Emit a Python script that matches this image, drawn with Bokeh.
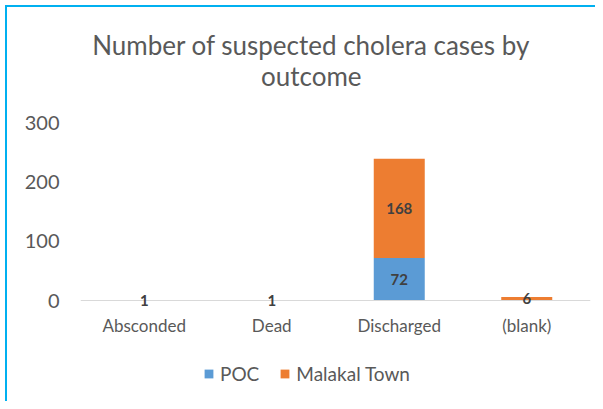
from bokeh.plotting import figure
from bokeh.models import ColumnDataSource, LabelSet, Label, Legend, LegendItem, FixedTicker
from bokeh.core.properties import value
from bokeh.embed import file_html
from bokeh.resources import INLINE

categories = ["Absconded", "Dead", "Discharged", "(blank)"]
poc = [1, 1, 72, 0]
malakal = [0, 0, 168, 6]
series_names = ["POC", "Malakal Town"]
colors = ["#5B9BD5", "#ED7D31"]
y_ticks = [0, 100, 200, 300]
title_lines = ["Number of suspected cholera cases by", "outcome"]

FONT = "Lato"
GRAY = "#595959"

src = ColumnDataSource(dict(cat=categories, POC=poc, Malakal=malakal))

# the frame fills the whole height; space above 300 holds the title,
# space below 0 holds the category labels and the legend
p = figure(x_range=categories, y_range=(-171, 508), width=595, height=401,
           output_backend="svg", toolbar_location=None,
           min_border_left=80, min_border_right=5, min_border_top=0, min_border_bottom=0)

rs = p.vbar_stack(["POC", "Malakal"], x="cat", width=0.4, fill_color=colors,
                  line_color=None, source=src)

# data labels
lab_x, lab_y, lab_t = [], [], []
for c, a, b in zip(categories, poc, malakal):
    if a:
        lab_x.append(c); lab_y.append(a / 2); lab_t.append(str(a))
    if b:
        lab_x.append(c); lab_y.append(a + b / 2); lab_t.append(str(b))
lsrc = ColumnDataSource(dict(x=lab_x, y=lab_y, t=lab_t))
p.add_layout(LabelSet(x="x", y="y", text="t", source=lsrc, text_align="center",
                      text_baseline="middle", text_font=value(FONT), text_font_size="15px",
                      text_font_style="bold", text_color="#404040"))

p.xgrid.visible = False
p.ygrid.visible = False
p.outline_line_color = None
p.background_fill_color = None
p.border_fill_color = None

p.yaxis.ticker = FixedTicker(ticks=y_ticks)
p.yaxis.axis_line_color = None
p.yaxis.major_tick_line_color = None
p.yaxis.minor_tick_line_color = None
p.yaxis.major_label_text_font = FONT
p.yaxis.major_label_text_font_size = "20px"
p.yaxis.major_label_text_color = GRAY
p.yaxis.major_label_standoff = 15

p.xaxis.fixed_location = 0
p.xaxis.axis_line_color = "#D9D9D9"
p.xaxis.major_tick_line_color = None
p.xaxis.minor_tick_line_color = None
p.xaxis.major_label_text_font = FONT
p.xaxis.major_label_text_font_size = "17px"
p.xaxis.major_label_text_color = GRAY
p.xaxis.major_label_standoff = 8
p.x_range.range_padding = 0.0

legend = Legend(items=[LegendItem(label=n, renderers=[r]) for n, r in zip(series_names, rs)],
                orientation="horizontal", location=(123, 16),
                label_text_font=FONT, label_text_font_size="19px", label_text_color=GRAY,
                glyph_width=11, glyph_height=11, spacing=20, label_standoff=6,
                border_line_color=None, background_fill_alpha=0, margin=0, padding=0)
p.add_layout(legend, "center")

# chart title, two centred lines
for txt, ty in zip(title_lines, [432, 381]):
    p.add_layout(Label(x=1.81, y=ty, text=txt, text_align="center", text_baseline="middle",
                       text_font=FONT, text_font_size="26px", text_color=GRAY))

p.styles = {"box-shadow": "inset 5px 5px 0 #ffffff, inset 7px 7px 0 #00B0F0"}

open("out.html", "w").write(file_html(p, INLINE))
